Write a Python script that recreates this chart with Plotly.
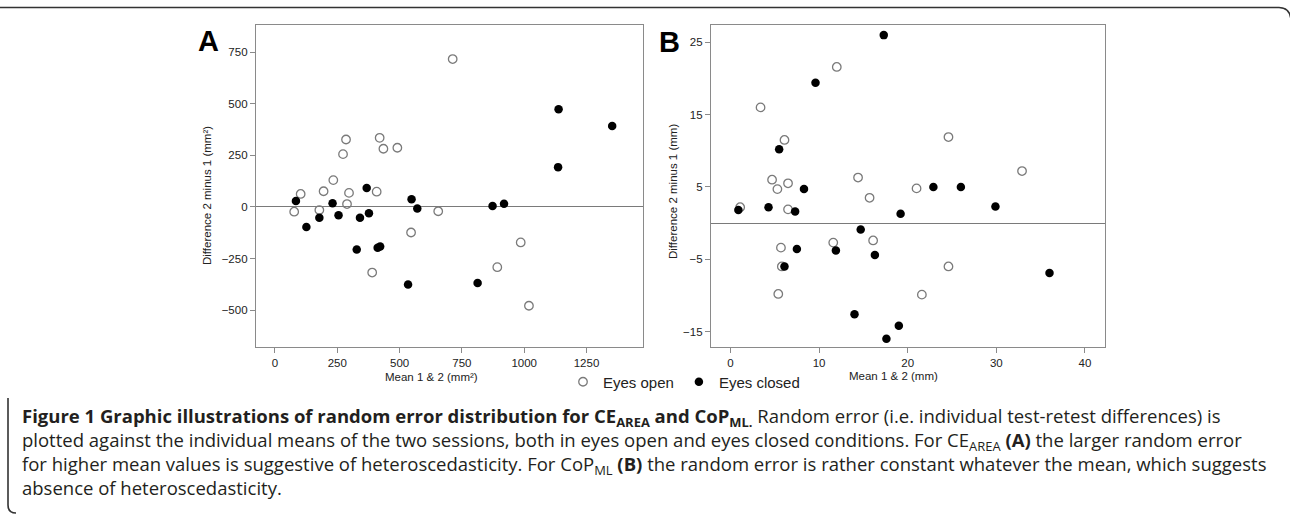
import plotly.graph_objects as go

W, H = 1290, 516

# ---------------- data ----------------
# Panel A: CE_AREA  (mean of sessions 1 & 2, difference 2 minus 1), mm²
a_open_x = [77, 103, 178, 195, 234, 273, 285, 289, 297, 408, 420, 435, 491, 546, 655, 390, 892, 986, 1019, 713]
a_open_y = [-23, 63, -15, 76, 130, 256, 327, 14, 68, 74, 335, 282, 287, -124, -21, -318, -292, -172, -479, 717]
a_closed_x = [84, 126, 178, 231, 255, 341, 368, 377, 548, 571, 873, 919, 1138, 1136, 1353, 328, 412, 422, 534, 813]
a_closed_y = [29, -97, -52, 18, -40, -52, 92, -31, 37, -8, 5, 15, 474, 193, 392, -206, -198, -192, -376, -369]

# Panel B: CoP_ML, mm
b_open_x = [1.1, 3.4, 6.1, 4.7, 5.3, 6.5, 6.5, 12.0, 24.6, 14.4, 15.7, 21.0, 32.9, 5.7, 5.8, 5.4, 11.6, 16.1, 24.6, 21.6]
b_open_y = [2.2, 16.0, 11.5, 6.0, 4.7, 5.5, 1.9, 21.6, 11.9, 6.3, 3.5, 4.8, 7.2, -3.4, -6.0, -9.8, -2.7, -2.4, -6.0, -9.9]
b_closed_x = [0.9, 4.3, 5.5, 8.3, 7.3, 17.3, 9.6, 22.9, 26.0, 29.9, 19.2, 7.5, 6.1, 14.7, 11.9, 16.3, 14.0, 19.0, 17.6, 36.0]
b_closed_y = [1.8, 2.2, 10.2, 4.7, 1.6, 26.0, 19.4, 5.0, 5.0, 2.3, 1.3, -3.6, -6.0, -0.9, -3.8, -4.4, -12.6, -14.2, -16.0, -6.9]

a_xticks = [0, 250, 500, 750, 1000, 1250]
a_yticks = [-500, -250, 0, 250, 500, 750]
b_xticks = [0, 10, 20, 30, 40]
b_yticks = [-15, -5, 5, 15, 25]

legend_open = "Eyes open"
legend_closed = "Eyes closed"
a_xtitle = "Mean 1 & 2 (mm²)"
a_ytitle = "Difference 2 minus 1 (mm²)"
b_xtitle = "Mean 1 & 2 (mm)"
b_ytitle = "Difference 2 minus 1 (mm)"

caption_lines = [
    "<b>Figure 1 Graphic illustrations of random error distribution for CE<sub>AREA</sub> and CoP<sub>ML.</sub></b>"
    " Random error (i.e. individual test-retest differences) is",
    "plotted against the individual means of the two sessions, both in eyes open and eyes closed conditions."
    " For CE<sub>AREA</sub> <b>(A)</b> the larger random error",
    "for higher mean values is suggestive of heteroscedasticity. For CoP<sub>ML</sub> <b>(B)</b>"
    " the random error is rather constant whatever the mean, which suggests",
    "absence of heteroscedasticity.",
]

# ---------------- helpers ----------------
def px(x):
    return x / W

def py(y):
    return 1 - y / H

AXC = "#8a8a8a"
TICKFONT = dict(family="Liberation Sans, Arial, sans-serif", size=11.5, color="#222")

open_marker = dict(symbol="circle-open", size=8.5, color="#7a7a7a", line=dict(width=1.3, color="#7a7a7a"))
closed_marker = dict(symbol="circle", size=8.5, color="#000000", line=dict(width=0))

fig = go.Figure()
fig.add_trace(go.Scatter(x=a_open_x, y=a_open_y, mode="markers", marker=open_marker,
                         name=legend_open, xaxis="x", yaxis="y", legendgroup="o", cliponaxis=False))
fig.add_trace(go.Scatter(x=a_closed_x, y=a_closed_y, mode="markers", marker=closed_marker,
                         name=legend_closed, xaxis="x", yaxis="y", legendgroup="c", cliponaxis=False))
fig.add_trace(go.Scatter(x=b_open_x, y=b_open_y, mode="markers", marker=open_marker,
                         name=legend_open, xaxis="x2", yaxis="y2", legendgroup="o", showlegend=False, cliponaxis=False))
fig.add_trace(go.Scatter(x=b_closed_x, y=b_closed_y, mode="markers", marker=closed_marker,
                         name=legend_closed, xaxis="x2", yaxis="y2", legendgroup="c", showlegend=False, cliponaxis=False))

common_axis = dict(showline=True, mirror=True, linecolor=AXC, linewidth=1.3, ticks="outside",
                   ticklen=5, tickwidth=1.2, tickcolor=AXC, showgrid=False, tickfont=TICKFONT)

fig.update_layout(
    width=W, height=H,
    margin=dict(l=0, r=0, t=0, b=0),
    paper_bgcolor="white", plot_bgcolor="white",
    xaxis=dict(domain=[px(256), px(643)], range=[-76.2, 1476.7], tickvals=a_xticks,
               zeroline=False, anchor="y", **common_axis),
    yaxis=dict(domain=[py(347), py(25)], range=[-679, 882], tickvals=a_yticks,
               zeroline=True, zerolinecolor="#7a7a7a", zerolinewidth=1.3, anchor="x", **common_axis),
    xaxis2=dict(domain=[px(711), px(1105)], range=[-2.19, 42.26], tickvals=b_xticks,
                zeroline=False, anchor="y2", **common_axis),
    yaxis2=dict(domain=[py(346.7), py(25)], range=[-17.1, 27.4], tickvals=b_yticks,
                zeroline=True, zerolinecolor="#7a7a7a", zerolinewidth=1.3, anchor="x2", **common_axis),
    showlegend=True,
    legend=dict(orientation="h", x=px(563), y=py(382), xanchor="left", yanchor="middle",
                font=dict(family="Liberation Sans, Arial, sans-serif", size=15, color="#222"),
                bgcolor="rgba(0,0,0,0)", borderwidth=0, itemclick=False, itemdoubleclick=False),
)

ann = []
TITLEFONT = dict(family="Liberation Sans, Arial, sans-serif", size=11.5, color="#222")
ann.append(dict(text=a_xtitle, x=px(431), y=py(377), xref="paper", yref="paper", showarrow=False,
                xanchor="center", yanchor="middle", font=TITLEFONT))
ann.append(dict(text=b_xtitle, x=px(893), y=py(376), xref="paper", yref="paper", showarrow=False,
                xanchor="center", yanchor="middle", font=TITLEFONT))
ann.append(dict(text=a_ytitle, x=px(207), y=py(196), xref="paper", yref="paper", showarrow=False,
                xanchor="center", yanchor="middle", textangle=-90, font=TITLEFONT))
ann.append(dict(text=b_ytitle, x=px(673), y=py(192), xref="paper", yref="paper", showarrow=False,
                xanchor="center", yanchor="middle", textangle=-90, font=TITLEFONT))
LETTERFONT = dict(family="Liberation Sans, Arial, sans-serif", size=29, color="#000")
ann.append(dict(text="<b>A</b>", x=px(208), y=py(41), xref="paper", yref="paper", showarrow=False,
                xanchor="center", yanchor="middle", font=LETTERFONT))
ann.append(dict(text="<b>B</b>", x=px(669), y=py(42), xref="paper", yref="paper", showarrow=False,
                xanchor="center", yanchor="middle", font=LETTERFONT))

CAPFONT = dict(family="Open Sans, sans-serif", size=18.5, color="#231f20")
ann.append(dict(text="<br>".join(caption_lines), x=px(20), y=py(451), xref="paper", yref="paper",
                showarrow=False, xanchor="left", yanchor="middle", align="left", font=CAPFONT))
fig.update_layout(annotations=ann)

# outer figure frame (partial rounded box)
top = f"M {px(0)},{py(7.5)} L {px(1279)},{py(7.5)} Q {px(1290)},{py(7.5)} {px(1291)},{py(20)}"
left = f"M {px(8)},{py(398)} L {px(8)},{py(505)} Q {px(8)},{py(513)} {px(16)},{py(513)}"
fig.update_layout(shapes=[
    dict(type="path", path=top, xref="paper", yref="paper", line=dict(color="#333", width=1.6)),
    dict(type="path", path=left, xref="paper", yref="paper", line=dict(color="#333", width=1.6)),
])

fig.write_html("out.html", config={"displayModeBar": False},
               post_script="document.body.style.margin='0';document.body.style.overflow='hidden';")
